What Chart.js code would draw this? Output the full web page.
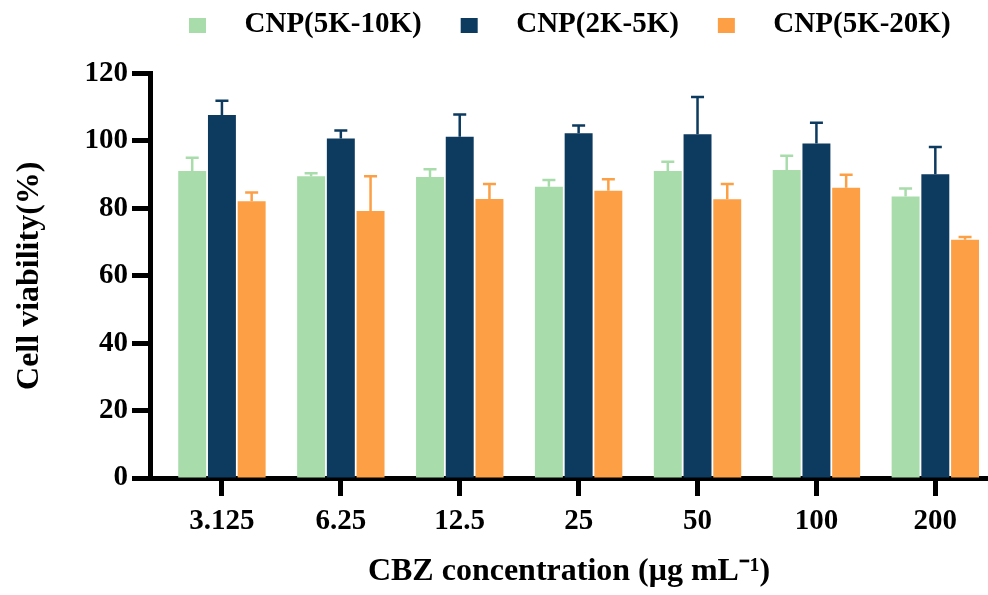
<!DOCTYPE html>
<html>
<head>
<meta charset="utf-8">
<script src="https://cdn.jsdelivr.net/npm/chart.js@4"></script>
<style>
  html, body { margin: 0; padding: 0; background: #fff; }
</style>
</head>
<body>
<canvas id="myChart" width="988" height="595"></canvas>
<script>
var doses = ['3.125', '6.25', '12.5', '25', '50', '100', '200'];
var seriesNames = ['CNP(5K-10K)', 'CNP(2K-5K)', 'CNP(5K-20K)'];

// mean cell viability (%) and SD for each CNP fraction
var viability510 = [91.1, 89.5, 89.3, 86.4, 91.1, 91.4, 83.5];
var sd510 = [3.9, 0.9, 2.3, 2.0, 2.7, 4.2, 2.4];
var viability25 = [107.7, 100.7, 101.2, 102.3, 102.0, 99.2, 90.1];
var sd25 = [4.2, 2.4, 6.6, 2.3, 11.0, 6.2, 8.1];
var viability520 = [82.1, 79.2, 82.8, 85.2, 82.7, 86.1, 70.7];
var sd520 = [2.6, 10.3, 4.4, 3.4, 4.5, 3.9, 0.8];

var yTicks = [0, 20, 40, 60, 80, 100, 120];
var barColors = ['#a9dcab', '#0d3a5f', '#fd9f45'];

var serif = '"Liberation Serif", "Times New Roman", serif';
var tickFont = { family: serif, size: 29, weight: 'bold' };

// small square with blank space around it, used as the legend marker
function legendMark(color) {
  var c = document.createElement('canvas');
  c.width = 72;
  c.height = 15;
  var g = c.getContext('2d');
  g.fillStyle = color;
  g.fillRect(31, 0, 17, 15);
  return c;
}
var legendMarks = barColors.map(legendMark);

function points(values) {
  return values.map(function (v, i) { return { x: i, y: v }; });
}

// mean + SD whiskers, upper side only
var errorBars = {
  id: 'errorBars',
  afterDatasetsDraw: function (chart) {
    var ctx = chart.ctx;
    var yScale = chart.scales.y;
    chart.data.datasets.forEach(function (ds, i) {
      var meta = chart.getDatasetMeta(i);
      meta.data.forEach(function (bar, j) {
        var top = yScale.getPixelForValue(ds.data[j].y + ds.errors[j]);
        ctx.save();
        ctx.strokeStyle = ds.backgroundColor;
        ctx.lineWidth = 2.5;
        ctx.beginPath();
        ctx.moveTo(bar.x, bar.y);
        ctx.lineTo(bar.x, top);
        ctx.moveTo(bar.x - 6.5, top);
        ctx.lineTo(bar.x + 6.5, top);
        ctx.stroke();
        ctx.restore();
      });
    });
  }
};

// extra room under the legend
var legendGap = {
  id: 'legendGap',
  beforeInit: function (chart) {
    var fit = chart.legend.fit;
    chart.legend.fit = function () {
      fit.call(this);
      this.height += 24;
    };
  }
};

new Chart('myChart', {
  type: 'bar',
  data: {
    datasets: [
      { label: seriesNames[0], data: points(viability510), errors: sd510, backgroundColor: barColors[0] },
      { label: seriesNames[1], data: points(viability25), errors: sd25, backgroundColor: barColors[1] },
      { label: seriesNames[2], data: points(viability520), errors: sd520, backgroundColor: barColors[2] }
    ]
  },
  options: {
    responsive: false,
    animation: false,
    devicePixelRatio: 1,
    categoryPercentage: 0.75,
    barPercentage: 0.94,
    layout: { padding: { top: 2.5, left: 0, right: 0, bottom: 0 } },
    plugins: {
      tooltip: { enabled: false },
      legend: {
        position: 'top',
        align: 'start',
        fullSize: false,
        labels: {
          usePointStyle: true,
          pointStyleWidth: 72,
          padding: 8,
          color: '#000',
          font: { family: serif, size: 29, weight: 'bold' },
          generateLabels: function (chart) {
            var items = Chart.defaults.plugins.legend.labels.generateLabels(chart);
            items.forEach(function (item, i) { item.pointStyle = legendMarks[i]; });
            return items;
          }
        }
      }
    },
    scales: {
      x: {
        type: 'linear',
        min: -0.605,
        max: 6.443,
        offset: false,
        afterBuildTicks: function (scale) {
          scale.ticks = doses.map(function (d, i) { return { value: i }; });
        },
        afterFit: function (scale) { scale.height = 117; },
        ticks: {
          callback: function (value) { return doses[value]; },
          font: tickFont,
          color: '#000',
          padding: 8,
          maxRotation: 0,
          autoSkip: false
        },
        grid: { drawOnChartArea: false, offset: false, tickLength: 18, tickWidth: 5, tickColor: '#000' },
        border: { color: '#000', width: 5 },
        title: {
          display: true,
          text: 'CBZ concentration (μg mL⁻¹)',
          color: '#000',
          font: { family: serif, size: 32, weight: 'bold' },
          padding: { top: 0, bottom: 4 }
        }
      },
      y: {
        min: 0,
        max: 120,
        afterBuildTicks: function (scale) {
          scale.ticks = yTicks.map(function (v) { return { value: v }; });
        },
        afterFit: function (scale) { scale.width = 150; },
        ticks: { font: tickFont, color: '#000', padding: 4 },
        grid: { drawOnChartArea: false, tickLength: 18, tickWidth: 5, tickColor: '#000' },
        border: { color: '#000', width: 5 },
        title: {
          display: true,
          text: 'Cell viability(%)',
          color: '#000',
          font: { family: serif, size: 32, weight: 'bold' },
          padding: { top: 11, bottom: 0 }
        }
      }
    }
  },
  plugins: [errorBars, legendGap]
});
</script>
</body>
</html>
